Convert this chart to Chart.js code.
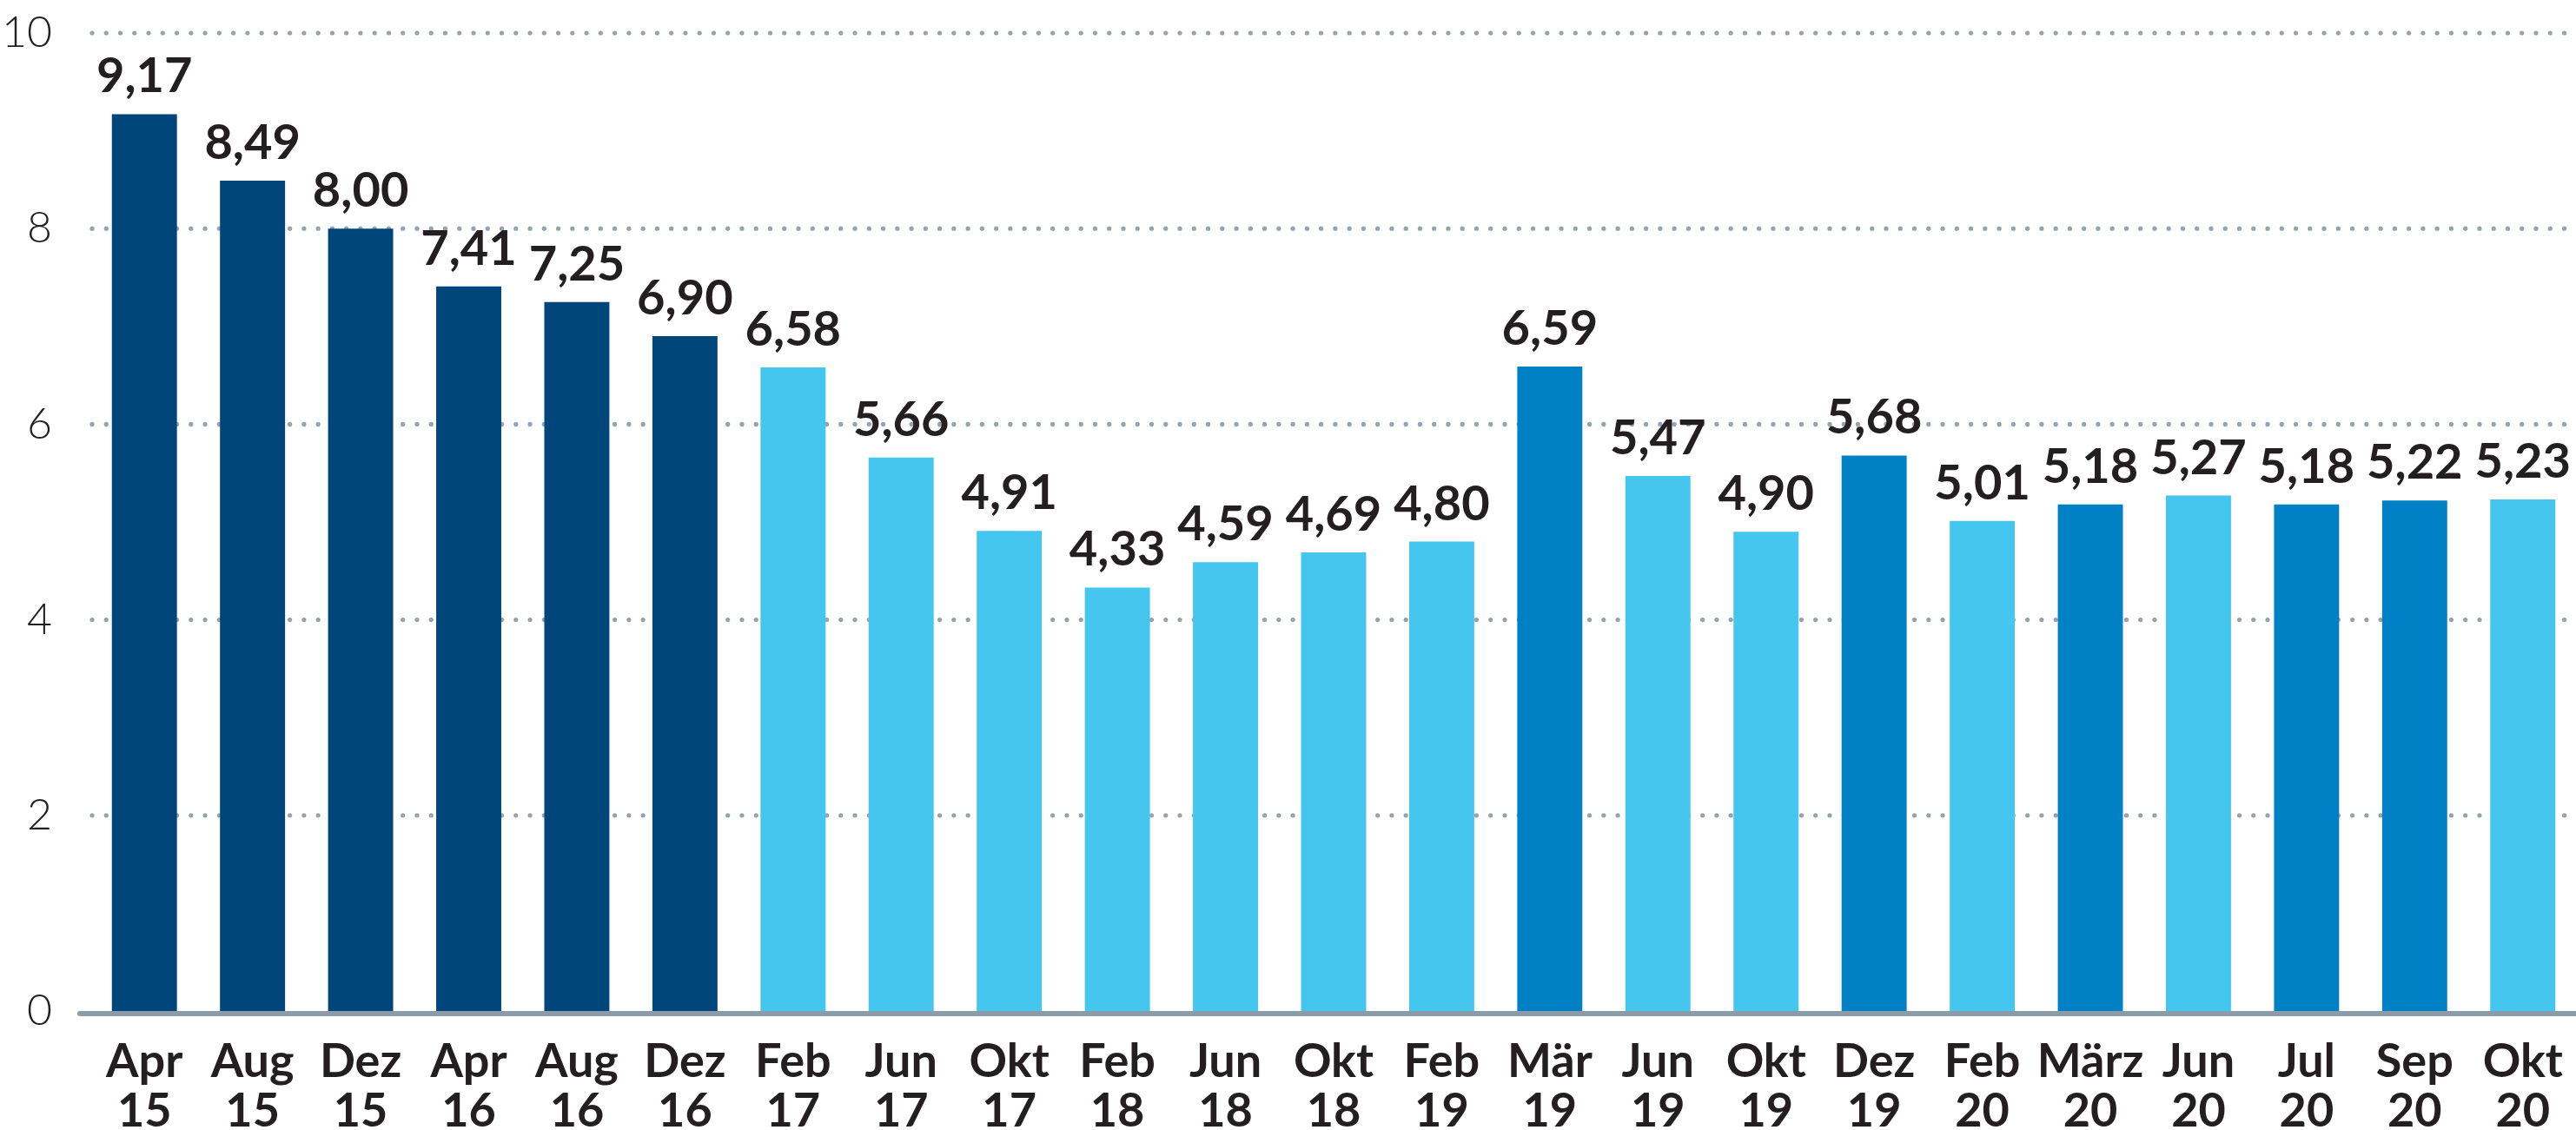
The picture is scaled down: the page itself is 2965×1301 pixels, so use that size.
<!DOCTYPE html>
<html>
<head>
<meta charset="utf-8">
<script src="https://cdn.jsdelivr.net/npm/chart.js@4.4.1/dist/chart.umd.min.js"></script>
<style>
  html, body { margin: 0; padding: 0; background: #fff; overflow: hidden; }
  /* a little wider than the window so the last category can run to the edge */
  #wrap { width: 2980px; height: 1301px; position: relative; }
</style>
</head>
<body>
<div id="wrap"><canvas id="chart"></canvas></div>
<script>
// --- data ---
const months = ['Apr', 'Aug', 'Dez', 'Apr', 'Aug', 'Dez', 'Feb', 'Jun', 'Okt', 'Feb', 'Jun', 'Okt',
  'Feb', 'Mär', 'Jun', 'Okt', 'Dez', 'Feb', 'März', 'Jun', 'Jul', 'Sep', 'Okt'];
const years = ['15', '15', '15', '16', '16', '16', '17', '17', '17', '18', '18', '18',
  '19', '19', '19', '19', '19', '20', '20', '20', '20', '20', '20'];
const values = [9.17, 8.49, 8.00, 7.41, 7.25, 6.90, 6.58, 5.66, 4.91, 4.33, 4.59, 4.69,
  4.80, 6.59, 5.47, 4.90, 5.68, 5.01, 5.18, 5.27, 5.18, 5.22, 5.23];
const shades = ['dark', 'dark', 'dark', 'dark', 'dark', 'dark', 'light', 'light', 'light', 'light', 'light', 'light',
  'light', 'mid', 'light', 'light', 'mid', 'light', 'mid', 'light', 'mid', 'mid', 'light'];
const yTicks = [0, 2, 4, 6, 8, 10];

const COLORS = { dark: '#00467a', mid: '#0080c5', light: '#44c6ee' };
const TEXT = '#231f20';
const GRID = '#93a3af';
const FONT = 'Lato, "Open Sans", sans-serif';

const labels = months.map((m, i) => [m, years[i]]);
const fmt = (v) => v.toFixed(2).replace('.', ',');

// dotted grid lines behind the bars
const dottedGrid = {
  id: 'dottedGrid',
  beforeDatasetsDraw(chart) {
    const { ctx, chartArea, scales: { y } } = chart;
    ctx.save();
    ctx.fillStyle = GRID;
    for (const v of yTicks) {
      if (v === 0) continue;
      const py = y.getPixelForValue(v);
      for (let x = chartArea.left + 2; x < chart.width; x += 16.26) {
        ctx.beginPath();
        ctx.arc(x, py, 2.6, 0, Math.PI * 2);
        ctx.fill();
      }
    }
    ctx.restore();
  },
};

// base line and value labels
const barLabels = {
  id: 'barLabels',
  afterDatasetsDraw(chart) {
    const { ctx, chartArea, scales: { y } } = chart;
    ctx.save();
    const base = y.getPixelForValue(0) + 3;
    ctx.strokeStyle = '#8b9ba7';
    ctx.lineWidth = 6;
    ctx.lineCap = 'round';
    ctx.beginPath();
    ctx.moveTo(chartArea.left - 12, base);
    ctx.lineTo(chart.width + 10, base);
    ctx.stroke();

    const meta = chart.getDatasetMeta(0);
    ctx.fillStyle = TEXT;
    ctx.font = `bold 56px ${FONT}`;
    ctx.textAlign = 'center';
    ctx.textBaseline = 'alphabetic';
    meta.data.forEach((bar, i) => {
      ctx.fillText(fmt(values[i]), bar.x, bar.y - 25);
    });
    ctx.restore();
  },
};

new Chart(document.getElementById('chart'), {
  type: 'bar',
  data: {
    labels,
    datasets: [{
      data: values,
      backgroundColor: shades.map((s) => COLORS[s]),
      borderWidth: 0,
      categoryPercentage: 1,
      barPercentage: 0.602,
    }],
  },
  options: {
    responsive: true,
    maintainAspectRatio: false,
    animation: false,
    layout: { padding: { top: 38, left: 3, right: 8, bottom: 0 } },
    plugins: {
      legend: { display: false },
      tooltip: { enabled: false },
    },
    scales: {
      x: {
        afterFit(scale) { scale.height = 137; },
        grid: { display: false, drawTicks: false },
        border: { display: false },
        ticks: {
          color: TEXT,
          padding: 30,
          maxRotation: 0,
          autoSkip: false,
          font: { family: FONT, size: 54, weight: 'bold', lineHeight: 1.06 },
        },
      },
      y: {
        min: 0,
        max: 10,
        afterFit(scale) {
          scale.width = 101;
          scale.paddingTop = 0;
          scale.paddingBottom = 0;
        },
        afterBuildTicks(scale) { scale.ticks = yTicks.map((v) => ({ value: v })); },
        grid: { display: false, drawTicks: false },
        border: { display: false },
        ticks: {
          color: TEXT,
          padding: 44,
          font: { family: FONT, size: 50, weight: 300 },
        },
      },
    },
  },
  plugins: [dottedGrid, barLabels],
});
</script>
</body>
</html>
